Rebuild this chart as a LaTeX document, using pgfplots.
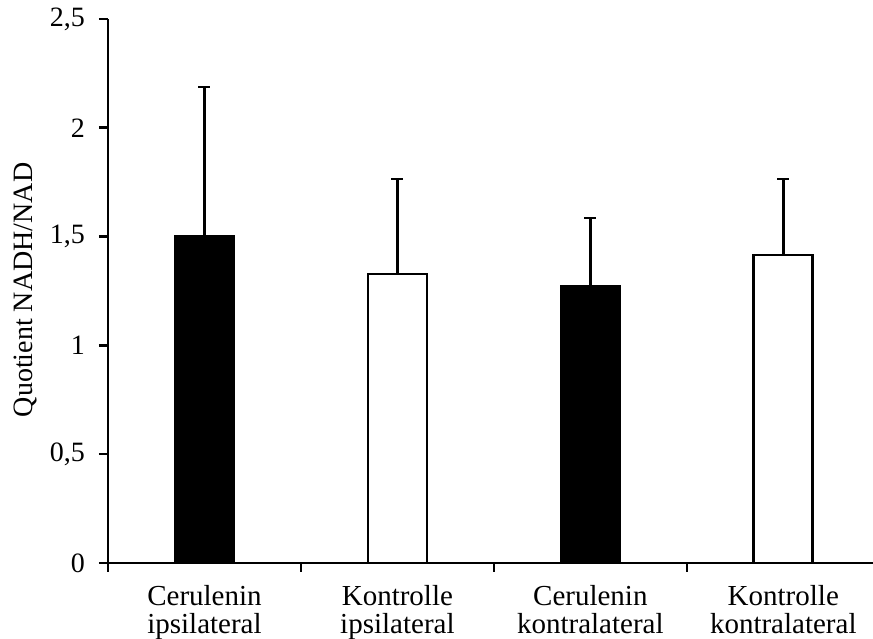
\documentclass[border=0pt]{standalone}
\usepackage{pgfplots}
\pgfplotsset{compat=1.18}
\usepackage{fontspec}
\setmainfont{Liberation Serif}
\begin{document}
\begin{tikzpicture}
\useasboundingbox (0,0) rectangle (873pt,639pt);
\begin{axis}[
  at={(108pt,76pt)}, anchor=south west,
  scale only axis,
  width=765pt, height=544pt,
  xmin=-0.5, xmax=3.465,
  ymin=0, ymax=2.5,
  axis x line=bottom, axis y line=left,
  axis line style={line width=2.6pt, -},
  every tick/.style={line width=2.6pt, black},
  ytick={0,0.5,1,1.5,2,2.5},
  yticklabels={0,{0,5},1,{1,5},2,{2,5}},
  tick align=outside,
  major tick length=9pt,
  xtick={0,1,2,3},
  xticklabels={Cerulenin\\ipsilateral,Kontrolle\\ipsilateral,Cerulenin\\kontralateral,Kontrolle\\kontralateral},
  major x tick style={draw=none},
  minor xtick={-0.5,0.5,1.5,2.5},
  minor tick length=9pt,
  /pgf/number format/assume math mode=true,
  xticklabel style={align=center, font=\fontsize{29}{28}\selectfont, inner sep=0pt, yshift=-13pt},
  yticklabel style={font=\fontsize{28}{30}\selectfont, inner sep=0pt, xshift=-14pt},
  ylabel={Quotient NADH/NAD},
  ylabel style={font=\fontsize{28}{30}\selectfont, at={(axis description cs:-0.108,0.502)}, anchor=center},
  ybar, bar width=59pt, bar shift=0pt,
  error bars/y dir=plus, error bars/y explicit,
  error bars/error bar style={line width=2.6pt, black},
  error bars/error mark options={rotate=90, mark size=6pt, line width=2.6pt, black},
  clip=false,
]
\addplot[fill=black, draw=black, line width=2.6pt] coordinates {
  (0,1.503) +- (0,0.684)
  (2,1.273) +- (0,0.312)
};
\addplot[fill=white, draw=black, line width=2.6pt] coordinates {
  (1,1.328) +- (0,0.437)
  (3,1.415) +- (0,0.350)
};
\end{axis}
\end{tikzpicture}
\end{document}
